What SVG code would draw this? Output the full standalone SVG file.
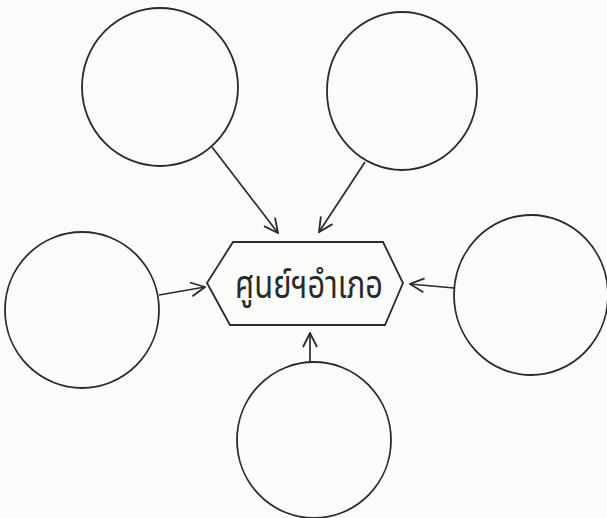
<svg xmlns="http://www.w3.org/2000/svg" width="607" height="518" viewBox="0 0 607 518">
<style>
.n{fill:none;stroke:#2a2a2a;stroke-width:1.8}
.c{fill:none;stroke:#2a2a2a;stroke-width:1.7}
.t{font-family:"Noto Sans Thai","Noto Sans","DejaVu Sans",sans-serif;font-size:40px;fill:#2a2a2a}
</style>
<defs>
<marker id="ah" viewBox="0 0 16 16" refX="15" refY="8" markerWidth="16" markerHeight="16" markerUnits="userSpaceOnUse" orient="auto">
<path d="M1,1 L15,8 L1,15" fill="none" stroke="#2a2a2a" stroke-width="1.8"/>
</marker>
</defs>
<rect width="607" height="518" fill="#fbfbfa"/>
<g id="connectors">
<line class="c" x1="212" y1="147" x2="278" y2="233" marker-end="url(#ah)"/>
<line class="c" x1="365" y1="162" x2="319" y2="232" marker-end="url(#ah)"/>
<line class="c" x1="159" y1="295" x2="205" y2="287" marker-end="url(#ah)"/>
<line class="c" x1="454" y1="288" x2="410" y2="284" marker-end="url(#ah)"/>
<line class="c" x1="310" y1="362" x2="310" y2="333" marker-end="url(#ah)"/>
</g>
<g id="circle-top-left"><ellipse class="n" cx="160" cy="87" rx="78" ry="79"/></g>
<g id="circle-top-right"><ellipse class="n" cx="402" cy="91" rx="75" ry="79"/></g>
<g id="circle-left"><ellipse class="n" cx="82" cy="310" rx="77" ry="78"/></g>
<g id="circle-right"><ellipse class="n" cx="531" cy="295" rx="77" ry="80"/></g>
<g id="circle-bottom"><ellipse class="n" cx="314" cy="440" rx="77" ry="78"/></g>
<g id="center">
<polygon class="n" points="233,242 383,242 403,283 385,325 230,325 207,283"/>
<text class="t" x="235" y="298" textLength="148" lengthAdjust="spacingAndGlyphs">ศูนย์ฯอำเภอ</text>
</g>
</svg>
